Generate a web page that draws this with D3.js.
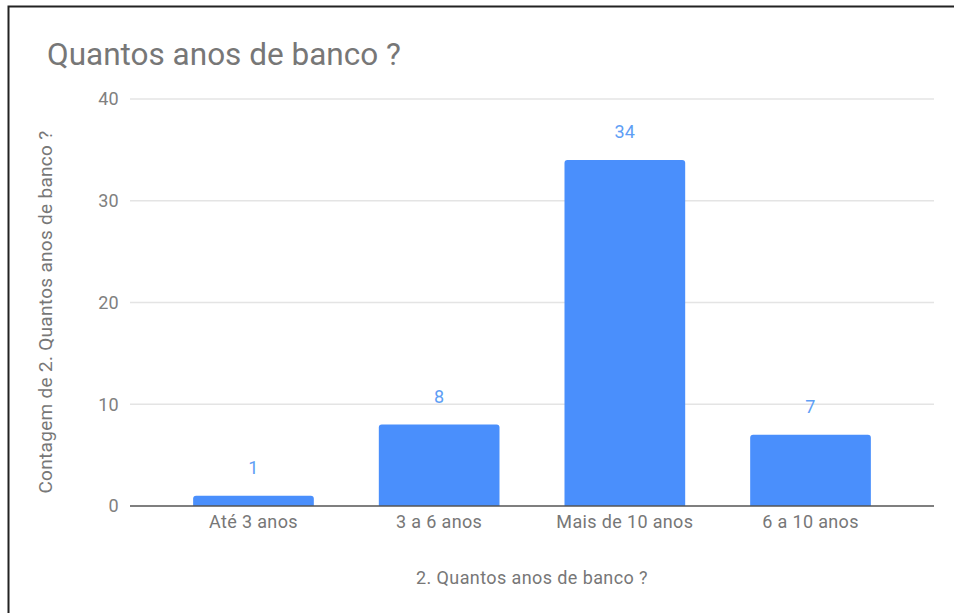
<!DOCTYPE html>
<html>
<head>
<meta charset="utf-8">
<script src="https://cdn.jsdelivr.net/npm/d3@7"></script>
<style>
  body { margin: 0; background: #fff; }
  text { font-family: Roboto, sans-serif; }
</style>
</head>
<body>
<script>
// dados do gráfico
const categories = ["Até 3 anos", "3 a 6 anos", "Mais de 10 anos", "6 a 10 anos"];
const counts = [1, 8, 34, 7];
const yTicks = [0, 10, 20, 30, 40];

const width = 954, height = 613;

const svg = d3.select("body")
  .append("svg")
  .attr("width", width)
  .attr("height", height);

// moldura
svg.append("path")
  .attr("d", `M8.5,${height} V6.5 H${width}`)
  .attr("fill", "none")
  .attr("stroke", "#222")
  .attr("stroke-width", 2);

const x = d3.scaleBand()
  .domain(categories)
  .range([130, 934])
  .paddingInner(0.35)
  .paddingOuter(0.34);

const y = d3.scaleLinear()
  .domain([0, 40])
  .range([506, 99]);

// linhas de grade
svg.selectAll("line.grid")
  .data(yTicks.filter((d) => d !== 0))
  .enter()
  .append("line")
  .attr("class", "grid")
  .attr("x1", 130)
  .attr("x2", 934)
  .attr("y1", (d) => y(d))
  .attr("y2", (d) => y(d))
  .attr("stroke", "#e4e4e4")
  .attr("stroke-width", 1.5);

// eixo y
const yAxis = svg.append("g")
  .attr("transform", "translate(130,0)")
  .call(d3.axisLeft(y).tickValues(yTicks).tickSize(0).tickPadding(11));
yAxis.select(".domain").remove();
yAxis.selectAll("text")
  .attr("font-size", 18)
  .attr("font-family", "Roboto, sans-serif")
  .attr("letter-spacing", 0.3)
  .attr("fill", "#808080");

// barras com cantos superiores arredondados
const r = 3;
svg.selectAll("path.bar")
  .data(counts)
  .enter()
  .append("path")
  .attr("class", "bar")
  .attr("fill", "#4a8ffc")
  .attr("d", (d, i) => {
    const x0 = x(categories[i]), w = x.bandwidth();
    const y0 = y(d), yb = y(0);
    return `M${x0},${yb} V${y0 + r} Q${x0},${y0} ${x0 + r},${y0} H${x0 + w - r} Q${x0 + w},${y0} ${x0 + w},${y0 + r} V${yb} Z`;
  });

// rótulos de valor
svg.selectAll("text.value")
  .data(counts)
  .enter()
  .append("text")
  .attr("class", "value")
  .attr("x", (d, i) => x(categories[i]) + x.bandwidth() / 2)
  .attr("y", (d) => y(d) - 22)
  .attr("text-anchor", "middle")
  .attr("font-size", 18)
  .attr("letter-spacing", 0.3)
  .attr("fill", "#5e9ef5")
  .text((d) => d);

// linha de base
svg.append("line")
  .attr("x1", 130)
  .attr("x2", 934)
  .attr("y1", y(0))
  .attr("y2", y(0))
  .attr("stroke", "#555")
  .attr("stroke-width", 1.5);

// eixo x
const xAxis = svg.append("g")
  .attr("transform", `translate(0,${y(0)})`)
  .call(d3.axisBottom(x).tickSize(0).tickPadding(9));
xAxis.select(".domain").remove();
xAxis.selectAll("text")
  .attr("font-size", 18)
  .attr("font-family", "Roboto, sans-serif")
  .attr("letter-spacing", 0.35)
  .attr("fill", "#777");

// títulos
svg.append("text")
  .attr("x", 47)
  .attr("y", 65)
  .attr("font-size", 31.5)
  .attr("fill", "#777")
  .text("Quantos anos de banco ?");

svg.append("text")
  .attr("x", 532)
  .attr("y", 584)
  .attr("text-anchor", "middle")
  .attr("font-size", 18)
  .attr("letter-spacing", 0.4)
  .attr("fill", "#777")
  .text("2. Quantos anos de banco ?");

svg.append("text")
  .attr("transform", "translate(52,312) rotate(-90)")
  .attr("text-anchor", "middle")
  .attr("font-size", 19)
  .attr("letter-spacing", 0.3)
  .attr("fill", "#777")
  .text("Contagem de 2. Quantos anos de banco ?");
</script>
</body>
</html>
